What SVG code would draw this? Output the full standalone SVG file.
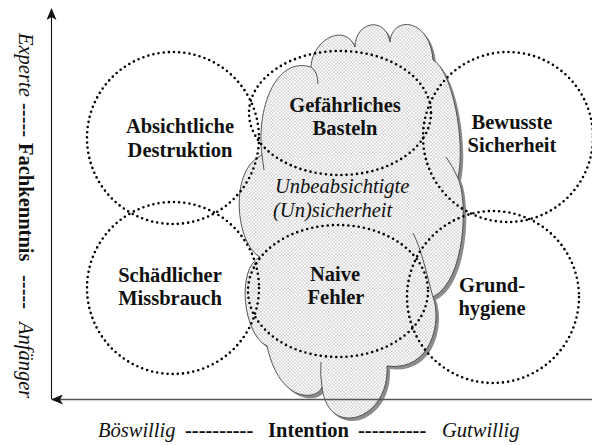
<svg xmlns="http://www.w3.org/2000/svg" width="592" height="445" viewBox="0 0 592 445">
  <defs>
    <!-- light stipple used as cloud fill -->
    <pattern id="stipple" width="3.4" height="3.4" patternUnits="userSpaceOnUse">
      <rect width="3.4" height="3.4" fill="#ffffff"/>
      <circle cx="0.85" cy="0.85" r="0.6" fill="#8c8c8c"/>
      <circle cx="2.55" cy="2.55" r="0.6" fill="#8c8c8c"/>
    </pattern>
    <marker id="arrow" viewBox="0 0 12 10" refX="11" refY="5" markerWidth="12" markerHeight="10" markerUnits="userSpaceOnUse" orient="auto">
      <path d="M0,0 L12,5 L0,10 L3,5 Z" fill="#111"/>
    </marker>
    <path id="cloudShape" d="M262,155 C256,110 275,56 311,67 C312,40 345,22 355,47 C355,22 385,15 390,42 C392,15 430,18 433,60 C452,70 466,140 458,178 C468,200 466,280 433,297 C442,320 432,372 387,366 C390,420 328,440 322,387 C318,400 280,405 267,346 C243,335 236,268 260,257 C236,245 228,170 262,155 Z"/>
  </defs>
  <style>
    .dots { fill: none; stroke: #000; stroke-width: 2.6; stroke-dasharray: 0 5.2; stroke-linecap: round; }
    .lbl { font-family: "Liberation Serif", "Times New Roman", serif; font-size: 20.5px; fill: #111; }
    .b { font-weight: bold; }
    .i { font-style: italic; }
    .mid { text-anchor: middle; }
    .inner { fill: none; stroke: #444; stroke-width: 0.9; }
  </style>

  <!-- central cloud: unintended (in)security -->
  <g id="unbeabsichtigte">
    <use href="#cloudShape" transform="translate(3,3)" fill="#8c8c8c"/>
    <use href="#cloudShape" fill="url(#stipple)" stroke="#444" stroke-width="0.9"/>
    <path class="inner" d="M311,67 Q318,72 318,84"/>
    <path class="inner" d="M262,155 Q263,163 264,170"/>
    <path class="inner" d="M433,297 C428,280 422,250 413,233"/>
    <path class="inner" d="M458,178 Q452,165 446,157"/>
    <path class="inner" d="M322,387 Q320,375 321,362"/>
    <text class="lbl i" x="275" y="193">Unbeabsichtigte</text>
    <text class="lbl i" x="273" y="217">(Un)sicherheit</text>
  </g>

  <g id="axes">
    <line x1="51.5" y1="399" x2="51.5" y2="9" stroke="#111" stroke-width="1.1" marker-end="url(#arrow)"/>
    <line x1="592" y1="399.5" x2="52" y2="399.5" stroke="#555" stroke-width="1.4" marker-end="url(#arrow)"/>
  </g>

  <g id="absichtliche-destruktion">
    <circle class="dots" cx="173" cy="138" r="86"/>
    <text class="lbl b mid" x="180" y="133">Absichtliche</text>
    <text class="lbl b mid" x="180" y="157">Destruktion</text>
  </g>

  <g id="schaedlicher-missbrauch">
    <circle class="dots" cx="173" cy="288" r="86"/>
    <text class="lbl b mid" x="170" y="282">Schädlicher</text>
    <text class="lbl b mid" x="170" y="305">Missbrauch</text>
  </g>

  <g id="gefaehrliches-basteln">
    <ellipse class="dots" cx="340" cy="113" rx="91" ry="62"/>
    <text class="lbl b mid" x="345" y="112">Gefährliches</text>
    <text class="lbl b mid" x="345" y="135">Basteln</text>
  </g>

  <g id="naive-fehler">
    <ellipse class="dots" cx="338" cy="291" rx="90" ry="66"/>
    <text class="lbl b mid" x="335" y="281">Naive</text>
    <text class="lbl b mid" x="336" y="304">Fehler</text>
  </g>

  <g id="bewusste-sicherheit">
    <circle class="dots" cx="508" cy="137" r="85"/>
    <text class="lbl b mid" x="512" y="129">Bewusste</text>
    <text class="lbl b mid" x="512" y="152">Sicherheit</text>
  </g>

  <g id="grundhygiene">
    <circle class="dots" cx="493" cy="297" r="86"/>
    <text class="lbl b mid" x="492" y="292">Grund-</text>
    <text class="lbl b mid" x="492" y="315">hygiene</text>
  </g>

  <!-- axis titles -->
  <text class="lbl" transform="rotate(90)" y="-19">
    <tspan class="i" x="33">Experte</tspan>
    <tspan class="b" x="103">-----</tspan>
    <tspan class="b" x="143">Fachkenntnis</tspan>
    <tspan class="b" x="275">-----</tspan>
    <tspan class="i" x="322">Anfänger</tspan>
  </text>
  <text class="lbl" y="437">
    <tspan class="i" x="98">Böswillig</tspan>
    <tspan class="b" x="185">----------</tspan>
    <tspan class="b" x="268">Intention</tspan>
    <tspan class="b" x="358">----------</tspan>
    <tspan class="i" x="442">Gutwillig</tspan>
  </text>
</svg>
